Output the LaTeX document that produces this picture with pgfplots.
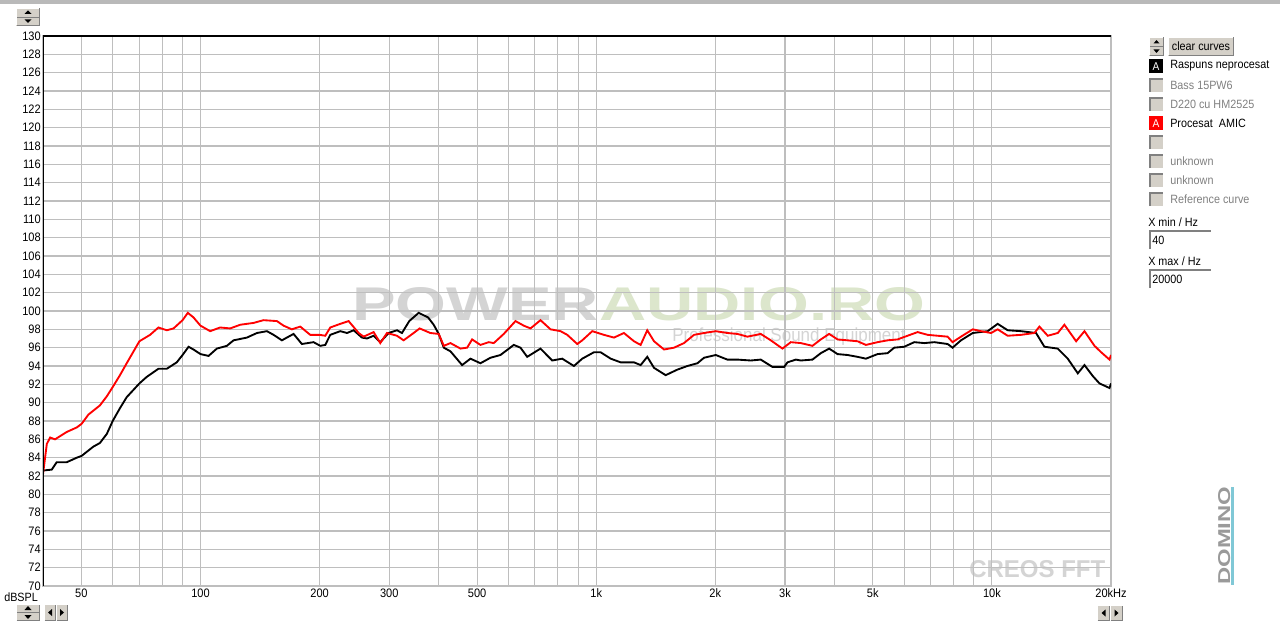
\documentclass[border=0pt]{standalone}
\usepackage{fontspec}
\setmainfont{Liberation Sans}[FakeStretch=0.9]
\usepackage{graphicx}
\usepackage{pgfplots}
\pgfplotsset{compat=1.18}
\definecolor{btn}{RGB}{212,208,200}
\definecolor{btndark}{RGB}{128,128,128}
\definecolor{gridc}{RGB}{190,190,190}
\definecolor{txtgray}{RGB}{128,128,128}
\definecolor{wmgray}{RGB}{212,212,212}
\definecolor{wmgreen}{RGB}{220,230,204}
\definecolor{curvered}{RGB}{255,0,0}
\definecolor{domblue}{RGB}{128,200,214}

\newcommand\btnbox[4]{%
  \fill[btn] (#1,#2) rectangle (#3,#4);
  \draw[white,line width=0.75pt] (#1+0.5,#4-0.5) -- (#1+0.5,#2+0.5) -- (#3-0.5,#2+0.5);
  \draw[btndark,line width=0.75pt] (#1+0.5,#4-0.5) -- (#3-0.5,#4-0.5) -- (#3-0.5,#2+0.5);
}
\newcommand\sunken[5]{% x1 y1 x2 y2 fill
  \fill[#5] (#1,#2) rectangle (#3,#4);
  \draw[btndark,line width=1.5pt] (#1+1,#4) -- (#1+1,#2+1) -- (#3,#2+1);
}

\begin{document}
\begin{tikzpicture}[font=\fontsize{9}{11}\selectfont]
\begin{scope}[x=0.75pt,y=-0.75pt]
\path[fill=white,use as bounding box] (0,0) rectangle (1280,624);
% top bar line
\fill[gray!55] (0,0.5) rectangle (1280,4);
% top-left spin button
\btnbox{16}{8}{40}{26}
\draw[btndark,line width=0.6pt] (17,17) -- (39,17);
\fill (28,10.5) -- (24.5,14) -- (31.5,14) -- cycle;
\fill (24.5,19.5) -- (31.5,19.5) -- (28,23) -- cycle;
% watermarks
\node[anchor=base west,inner sep=0pt] at (352,320) {\resizebox{430pt}{24.75pt}{\bfseries\color{wmgray}POWER\color{wmgreen}AUDIO.RO}};
\node[anchor=base west,inner sep=0pt] at (672,341) {\resizebox{175pt}{!}{\color{wmgray}Professional Sound Equipment}};
\node[anchor=base west,inner sep=0pt] at (969,577) {\resizebox{102pt}{12.75pt}{\bfseries\color{wmgray}CREOS FFT}};
\node[rotate=90,anchor=base west,inner sep=0pt] at (1230,585) {\resizebox{73.5pt}{9pt}{\bfseries\color{txtgray!80}DOMINO}};
\fill[domblue] (1230.5,487) rectangle (1234,585);
\end{scope}

\begin{axis}[
  at={(32.25pt,-27pt)}, anchor=north west, scale only axis,
  width=801pt, height=412.5pt,
  xmode=log, xmin=40, xmax=20000, ymin=70, ymax=130,
  ytick={70,72,...,130},
  xtick={40,50,60,70,80,90,100,200,300,400,500,600,700,800,900,1000,2000,3000,4000,5000,6000,7000,8000,9000,10000,20000},
  xticklabels={,50,,,,,100,200,300,,500,,,,,1k,2k,3k,,5k,,,,,10k,20kHz},
  grid=major, major grid style={gridc,line width=0.8pt},
  major tick length=0pt,
  axis line style={gridc,line width=1pt},
  tick label style={font=\fontsize{9.2}{11}\selectfont},
  /pgf/number format/assume math mode=true,
  yticklabel style={inner sep=1.5pt},
  xticklabel style={inner sep=2pt},
]
\addplot[black,line width=1.4pt] coordinates {
(40.1,82.6)(42.1,82.7)(43.3,83.5)(45.9,83.5)(48.7,84.0)(50.1,84.2)(53.6,85.2)(55.7,85.6)(58.0,86.6)(60.0,88.0)
(62.6,89.4)(65.1,90.6)(70.1,92.1)(73.1,92.8)(78.3,93.7)(82.2,93.7)(87.1,94.4)(90.1,95.2)(93.3,96.1)(96.0,95.8)
(100,95.3)(104.8,95.1)(110.0,95.9)(116.6,96.2)(121.2,96.8)(131.0,97.1)(138.9,97.6)(147.2,97.8)(153.0,97.4)(160.6,96.8)
(165.3,97.1)(171.9,97.5)(180.4,96.4)(193.1,96.6)(200.8,96.2)(206.7,96.3)(212.8,97.4)(225.6,97.8)(234.6,97.6)(243.8,97.9)
(255.9,97.1)(263.5,97.0)(273.9,97.3)(284.7,96.6)(298.9,97.6)(313.7,97.9)(323.0,97.6)(337,98.9)(356.0,99.8)(376,99.3)
(388.5,98.5)(400,97.5)(412.0,96.0)(428.3,95.6)(458.3,94.1)(481.1,94.8)(509.9,94.3)(540.5,94.9)(572.9,95.2)(619.1,96.3)
(643.7,96.0)(669.3,95.0)(723.3,95.9)(774.1,94.6)(820.6,94.8)(878.4,94.0)(922.1,94.8)(986.9,95.5)(1026,95.5)(1088,94.8)
(1153,94.4)(1246,94.4)(1295,94.1)(1346,95.0)(1400,93.8)(1498,93.0)(1603,93.6)(1700,94.0)(1802,94.3)(1873,94.9)
(2005,95.2)(2145,94.7)(2274,94.7)(2458,94.6)(2605,94.7)(2789,93.9)(2985,93.9)(3044,94.4)(3195,94.7)(3289,94.6)
(3520,94.7)(3695,95.4)(3879,95.9)(4072,95.3)(4316,95.2)(4576,95.0)(4804,94.8)(5141,95.3)(5449,95.4)(5664,96.0)
(6004,96.1)(6364,96.6)(6748,96.5)(7152,96.6)(7728,96.4)(7956,96.0)(8352,96.8)(8944,97.6)(9756,97.8)(10340,98.6)
(10960,97.9)(11848,97.8)(12927,97.6)(13572,96.1)(14668,95.9)(15548,94.8)(16484,93.2)(17136,94.1)(17988,92.9)(18700,92.1)
(19820,91.6)(20000,92.1)
};
\addplot[curvered,line width=1.4pt] coordinates {
(40,82.2)(40.9,85.5)(41.7,86.2)(42.9,86.0)(45.9,86.8)(48.7,87.3)(50.1,87.7)(52.1,88.7)(55.7,89.7)(58.0,90.7)
(60.0,91.7)(62.6,93.0)(65.1,94.3)(70.1,96.7)(74.6,97.4)(78.3,98.2)(82.2,97.9)(85.5,98.1)(90.1,99.0)(92.9,99.8)
(96.0,99.3)(100,98.4)(105.8,97.8)(112.1,98.2)(118.9,98.1)(126.0,98.5)(136.2,98.7)(144.3,99.0)(156.0,98.9)(162.2,98.4)
(170.2,98.0)(178.7,98.3)(189.4,97.4)(200,97.4)(206.7,97.3)(212.8,98.2)(225.6,98.6)(236.8,98.9)(251.0,97.6)(258.4,97.2)
(273.9,97.7)(284.7,96.5)(296.0,97.6)(313.7,97.3)(326.1,96.8)(345.7,97.6)(358,98.1)(381.0,97.6)(400,97.5)(412.0,96.2)
(428.3,96.5)(453.9,95.9)(471.9,96.0)(485.8,96.9)(509.9,96.3)(535.3,96.6)(551.1,96.5)(584.1,97.5)(625.2,98.9)(656.3,98.4)
(682.4,98.1)(723.3,99.0)(766.7,98.0)(812.7,97.8)(845.0,97.4)(895.7,96.4)(922.1,96.8)(977.4,97.8)(1046,97.4)(1109,97.1)
(1175,97.6)(1246,96.7)(1295,96.3)(1346,97.9)(1400,96.7)(1484,95.8)(1573,96.0)(1667,96.5)(1767,97.4)(1873,97.6)
(2005,97.8)(2145,97.6)(2274,97.5)(2411,97.2)(2605,97.5)(2762,96.8)(2956,95.9)(3103,96.6)(3289,96.5)(3520,96.2)
(3695,96.9)(3879,97.5)(4072,96.9)(4316,96.8)(4576,96.7)(4804,96.3)(5141,96.6)(5449,96.8)(5774,96.9)(6120,97.3)
(6490,97.7)(6880,97.4)(7292,97.3)(7728,97.2)(7956,96.6)(8352,97.2)(8944,98.0)(9385,97.8)(9948,97.6)(10340,98.0)
(10960,97.3)(11848,97.4)(12804,97.6)(13183,98.3)(13840,97.3)(14668,97.6)(15248,98.5)(16324,96.7)(17136,97.8)(18164,96.2)
(18884,95.5)(19820,94.7)(20000,95.2)
};
\draw[black,line width=1.6pt] (rel axis cs:0,0) -- (rel axis cs:0,1) -- (rel axis cs:1,1);
\end{axis}

\begin{scope}[x=0.75pt,y=-0.75pt]
% axis unit label
\node[anchor=west,inner sep=0pt] at (4,597) {dBSPL};
% bottom-left buttons
\btnbox{16}{604}{40}{621}
\draw[btndark,line width=0.6pt] (17,612.5) -- (39,612.5);
\fill (28,606) -- (24.5,610) -- (31.5,610) -- cycle;
\fill (24.5,615) -- (31.5,615) -- (28,619) -- cycle;
\btnbox{44}{604}{56}{621}
\fill (48,612.5) -- (52,609) -- (52,616) -- cycle;
\btnbox{56}{604}{68}{621}
\fill (64,612.5) -- (60,609) -- (60,616) -- cycle;
% bottom-right buttons
\btnbox{1097}{605}{1110}{621}
\fill (1101.5,613) -- (1105.5,609.5) -- (1105.5,616.5) -- cycle;
\btnbox{1110}{605}{1123}{621}
\fill (1118.5,613) -- (1114.5,609.5) -- (1114.5,616.5) -- cycle;
% right panel
\btnbox{1149}{37}{1164}{56}
\draw[btndark,line width=0.6pt] (1150,46.5) -- (1163,46.5);
\fill (1156.5,40) -- (1153.5,43.5) -- (1159.5,43.5) -- cycle;
\fill (1153.5,49.5) -- (1159.5,49.5) -- (1156.5,53) -- cycle;
\btnbox{1168}{37}{1234}{56}
\node[anchor=center,inner sep=0pt] at (1201,46.5) {clear curves};
% curve rows
\fill[black] (1149,59) rectangle (1163,73);
\node[white,inner sep=0pt,font=\fontsize{8.5}{10}\selectfont] at (1156,66.5) {A};
\node[anchor=west,inner sep=0pt] at (1170,66) {Raspuns neprocesat};
\sunken{1149}{78}{1163}{92}{btn}
\node[anchor=west,inner sep=0pt,txtgray] at (1170,85) {Bass 15PW6};
\sunken{1149}{97}{1163}{111}{btn}
\node[anchor=west,inner sep=0pt,txtgray] at (1170,104) {D220 cu HM2525};
\fill[curvered] (1149,116) rectangle (1163,130);
\node[white,inner sep=0pt,font=\fontsize{8.5}{10}\selectfont] at (1156,123.5) {A};
\node[anchor=west,inner sep=0pt] at (1170,123) {Procesat\ \ AMIC};
\sunken{1149}{135}{1163}{149}{btn}
\sunken{1149}{154}{1163}{168}{btn}
\node[anchor=west,inner sep=0pt,txtgray] at (1170,161) {unknown};
\sunken{1149}{173}{1163}{187}{btn}
\node[anchor=west,inner sep=0pt,txtgray] at (1170,180) {unknown};
\sunken{1149}{192}{1163}{206}{btn}
\node[anchor=west,inner sep=0pt,txtgray] at (1170,199) {Reference curve};
% X min / X max
\node[anchor=west,inner sep=0pt] at (1148,222) {X min / Hz};
\sunken{1149}{230}{1211}{249}{white}
\node[anchor=west,inner sep=0pt] at (1152,240) {40};
\node[anchor=west,inner sep=0pt] at (1148,261) {X max / Hz};
\sunken{1149}{269}{1211}{288}{white}
\node[anchor=west,inner sep=0pt] at (1152,279) {20000};
\end{scope}
\end{tikzpicture}
\end{document}
